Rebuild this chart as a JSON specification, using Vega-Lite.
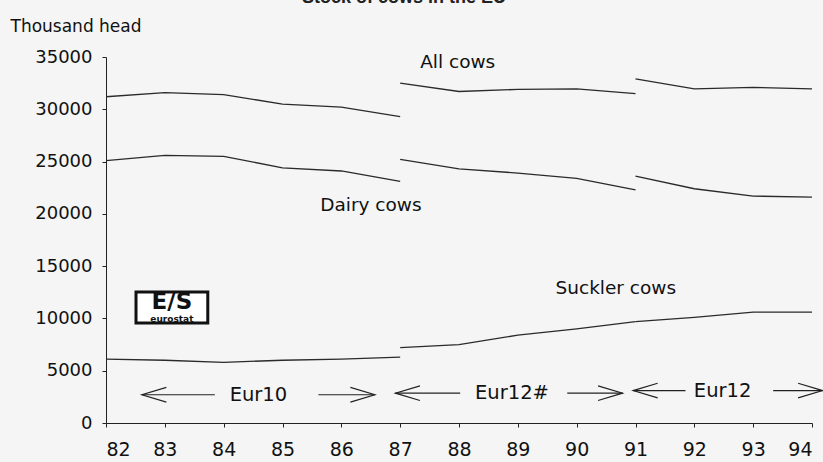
{
  "$schema": "https://vega.github.io/schema/vega-lite/v6.json",
  "width": 706,
  "height": 366,
  "autosize": {"type": "none"},
  "padding": {"left": 106, "top": 57, "right": 11, "bottom": 39},
  "background": "#f5f5f5",
  "title": {
    "text": "Stock of cows in the EU",
    "fontSize": 18,
    "font": "Liberation Sans",
    "fontWeight": "bold",
    "color": "#222",
    "anchor": "middle",
    "dx": -55,
    "dy": 12,
    "offset": 8,
    "baseline": "alphabetic"
  },
  "config": {
    "view": {"stroke": null},
    "axis": {
      "labelFont": "DejaVu Sans",
      "labelFontSize": 18,
      "labelColor": "#111",
      "domainColor": "#222",
      "tickColor": "#222",
      "grid": false,
      "tickSize": 4
    }
  },
  "datasets": {
    "cows": [
      {"series": "All cows", "period": "Eur10", "year": 82, "value": 31200},
      {"series": "All cows", "period": "Eur10", "year": 83, "value": 31600},
      {"series": "All cows", "period": "Eur10", "year": 84, "value": 31400},
      {"series": "All cows", "period": "Eur10", "year": 85, "value": 30500},
      {"series": "All cows", "period": "Eur10", "year": 86, "value": 30200},
      {"series": "All cows", "period": "Eur10", "year": 87, "value": 29300},
      {"series": "All cows", "period": "Eur12#", "year": 87, "value": 32500},
      {"series": "All cows", "period": "Eur12#", "year": 88, "value": 31700},
      {"series": "All cows", "period": "Eur12#", "year": 89, "value": 31900},
      {"series": "All cows", "period": "Eur12#", "year": 90, "value": 31950},
      {"series": "All cows", "period": "Eur12#", "year": 91, "value": 31500},
      {"series": "All cows", "period": "Eur12", "year": 91, "value": 32900},
      {"series": "All cows", "period": "Eur12", "year": 92, "value": 31950},
      {"series": "All cows", "period": "Eur12", "year": 93, "value": 32100},
      {"series": "All cows", "period": "Eur12", "year": 94, "value": 31950},
      {"series": "Dairy cows", "period": "Eur10", "year": 82, "value": 25100},
      {"series": "Dairy cows", "period": "Eur10", "year": 83, "value": 25600},
      {"series": "Dairy cows", "period": "Eur10", "year": 84, "value": 25500},
      {"series": "Dairy cows", "period": "Eur10", "year": 85, "value": 24400},
      {"series": "Dairy cows", "period": "Eur10", "year": 86, "value": 24100},
      {"series": "Dairy cows", "period": "Eur10", "year": 87, "value": 23100},
      {"series": "Dairy cows", "period": "Eur12#", "year": 87, "value": 25200},
      {"series": "Dairy cows", "period": "Eur12#", "year": 88, "value": 24300},
      {"series": "Dairy cows", "period": "Eur12#", "year": 89, "value": 23900},
      {"series": "Dairy cows", "period": "Eur12#", "year": 90, "value": 23400},
      {"series": "Dairy cows", "period": "Eur12#", "year": 91, "value": 22300},
      {"series": "Dairy cows", "period": "Eur12", "year": 91, "value": 23600},
      {"series": "Dairy cows", "period": "Eur12", "year": 92, "value": 22400},
      {"series": "Dairy cows", "period": "Eur12", "year": 93, "value": 21700},
      {"series": "Dairy cows", "period": "Eur12", "year": 94, "value": 21600},
      {"series": "Suckler cows", "period": "Eur10", "year": 82, "value": 6100},
      {"series": "Suckler cows", "period": "Eur10", "year": 83, "value": 6000},
      {"series": "Suckler cows", "period": "Eur10", "year": 84, "value": 5800},
      {"series": "Suckler cows", "period": "Eur10", "year": 85, "value": 6000},
      {"series": "Suckler cows", "period": "Eur10", "year": 86, "value": 6100},
      {"series": "Suckler cows", "period": "Eur10", "year": 87, "value": 6300},
      {"series": "Suckler cows", "period": "Eur12#", "year": 87, "value": 7200},
      {"series": "Suckler cows", "period": "Eur12#", "year": 88, "value": 7500},
      {"series": "Suckler cows", "period": "Eur12#", "year": 89, "value": 8400},
      {"series": "Suckler cows", "period": "Eur12#", "year": 90, "value": 9000},
      {"series": "Suckler cows", "period": "Eur12#", "year": 91, "value": 9700},
      {"series": "Suckler cows", "period": "Eur12", "year": 91, "value": 9700},
      {"series": "Suckler cows", "period": "Eur12", "year": 92, "value": 10100},
      {"series": "Suckler cows", "period": "Eur12", "year": 93, "value": 10600},
      {"series": "Suckler cows", "period": "Eur12", "year": 94, "value": 10600}
    ],
    "labels": [
      {"label": "All cows", "year": 87.34, "value": 34500},
      {"label": "Dairy cows", "year": 85.64, "value": 20840},
      {"label": "Suckler cows", "year": 89.64, "value": 12900}
    ],
    "periods": [
      {"label": "Eur10", "year": 84.59, "value": 2700},
      {"label": "Eur12#", "year": 88.9, "value": 2850},
      {"label": "Eur12", "year": 92.48, "value": 3100}
    ],
    "arrows": [
      {"dir": "left", "x1": 82.61, "x2": 83.85, "value": 2700},
      {"dir": "right", "x1": 85.61, "x2": 86.57, "value": 2700},
      {"dir": "left", "x1": 86.92, "x2": 88.02, "value": 2850},
      {"dir": "right", "x1": 89.84, "x2": 90.78, "value": 2850},
      {"dir": "left", "x1": 90.96, "x2": 91.85, "value": 3100},
      {"dir": "right", "x1": 93.34, "x2": 94.18, "value": 3100}
    ],
    "logo": [
      {"x1": 82.51, "x2": 83.73, "y1": 9560, "y2": 12530, "mid": 83.12, "big": 11550, "small": 9980}
    ]
  },
  "layer": [
    {
      "data": {"name": "cows"},
      "mark": {"type": "line", "color": "#2a2a2a", "strokeWidth": 1.3},
      "encoding": {
        "x": {
          "field": "year", "type": "quantitative",
          "scale": {"domain": [82, 94], "nice": false, "zero": false},
          "axis": {"values": [82,83,84,85,86,87,88,89,90,91,92,93,94], "format": "d", "title": null, "labelPadding": 13, "labelFontSize": 19}
        },
        "y": {
          "field": "value", "type": "quantitative",
          "scale": {"domain": [0, 35000], "nice": false},
          "axis": {
            "values": [0,5000,10000,15000,20000,25000,30000,35000],
            "format": "d",
            "labelPadding": 10,
            "title": "Thousand head",
            "titleAngle": 0,
            "titleX": -96,
            "titleY": -31,
            "titleAlign": "left",
            "titleBaseline": "middle",
            "titleFont": "DejaVu Sans",
            "titleFontSize": 17,
            "titleFontWeight": "normal",
            "titleColor": "#111"
          }
        },
        "detail": [{"field": "series"}, {"field": "period"}]
      }
    },
    {
      "data": {"name": "labels"},
      "mark": {"type": "text", "align": "left", "baseline": "middle", "font": "DejaVu Sans", "fontSize": 18.5, "color": "#111"},
      "encoding": {
        "x": {"field": "year", "type": "quantitative"},
        "y": {"field": "value", "type": "quantitative"},
        "text": {"field": "label"}
      }
    },
    {
      "data": {"name": "periods"},
      "mark": {"type": "text", "align": "center", "baseline": "middle", "font": "DejaVu Sans", "fontSize": 19.5, "color": "#111"},
      "encoding": {
        "x": {"field": "year", "type": "quantitative"},
        "y": {"field": "value", "type": "quantitative"},
        "text": {"field": "label"}
      }
    },
    {
      "data": {"name": "arrows"},
      "mark": {"type": "rule", "color": "#222", "strokeWidth": 1.2},
      "encoding": {
        "x": {"field": "x1", "type": "quantitative"},
        "x2": {"field": "x2"},
        "y": {"field": "value", "type": "quantitative"}
      }
    },
    {
      "data": {"name": "arrows"},
      "transform": [{"filter": "datum.dir == 'left'"}],
      "mark": {"type": "point", "shape": "M2,-0.6L0,0L2,0.6", "filled": false, "size": 600, "stroke": "#222", "strokeWidth": 1.2, "opacity": 1},
      "encoding": {
        "x": {"field": "x1", "type": "quantitative"},
        "y": {"field": "value", "type": "quantitative"}
      }
    },
    {
      "data": {"name": "arrows"},
      "transform": [{"filter": "datum.dir == 'right'"}],
      "mark": {"type": "point", "shape": "M-2,-0.6L0,0L-2,0.6", "filled": false, "size": 600, "stroke": "#222", "strokeWidth": 1.2, "opacity": 1},
      "encoding": {
        "x": {"field": "x2", "type": "quantitative"},
        "y": {"field": "value", "type": "quantitative"}
      }
    },
    {
      "data": {"name": "logo"},
      "mark": {"type": "rect", "fill": "#ffffff", "stroke": "#111", "strokeWidth": 3},
      "encoding": {
        "x": {"field": "x1", "type": "quantitative"},
        "x2": {"field": "x2"},
        "y": {"field": "y1", "type": "quantitative"},
        "y2": {"field": "y2"}
      }
    },
    {
      "data": {"name": "logo"},
      "mark": {"type": "text", "text": "E/S", "font": "DejaVu Sans", "fontWeight": "bold", "fontSize": 23, "baseline": "middle", "color": "#111"},
      "encoding": {
        "x": {"field": "mid", "type": "quantitative"},
        "y": {"field": "big", "type": "quantitative"}
      }
    },
    {
      "data": {"name": "logo"},
      "mark": {"type": "text", "text": "eurostat", "font": "DejaVu Sans", "fontWeight": "bold", "fontSize": 9, "baseline": "middle", "color": "#111"},
      "encoding": {
        "x": {"field": "mid", "type": "quantitative"},
        "y": {"field": "small", "type": "quantitative"}
      }
    }
  ]
}
